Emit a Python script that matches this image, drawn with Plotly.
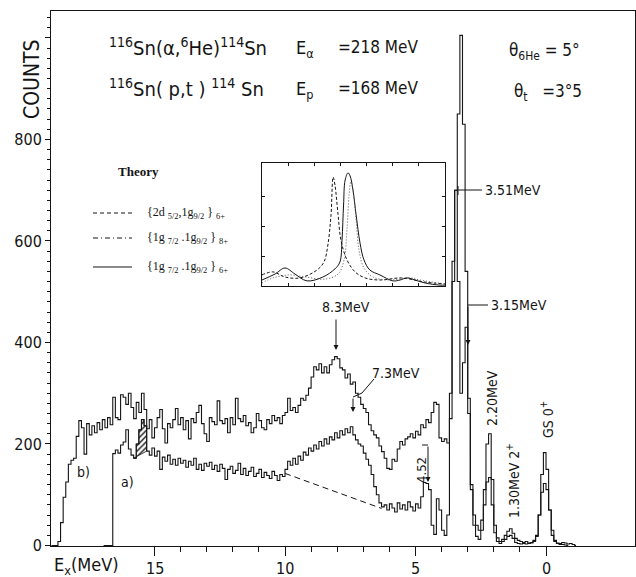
import plotly.graph_objects as go
import numpy as np

# ---------------- data ----------------
BIN = 0.1  # MeV per channel group

# spectrum b) (upper), bin centres start at 18.95 MeV and decrease by BIN
b_first_E = 18.95
b_counts = [
    0, 0, 0, 8, 45, 95, 125, 160, 168, 172,
    215, 246, 232, 180, 240, 218, 236, 222, 242, 228,
    248, 232, 252, 238, 292, 252, 248, 297, 292, 278,
    300, 272, 250, 282, 262, 300, 268, 230, 248, 212,
    232, 252, 268, 230, 202, 240, 232, 248, 270, 238,
    252, 228, 246, 210, 250, 242, 262, 276, 240, 220,
    205, 252, 244, 238, 285, 246, 240, 250, 222, 252,
    238, 290, 250, 244, 256, 236, 242, 222, 232, 260,
    246, 232, 228, 248, 240, 256, 246, 252, 240, 256,
    262, 290, 266, 272, 262, 276, 290, 286, 296, 310,
    332, 352, 346, 358, 340, 352, 340, 356, 366, 372,
    368, 350, 346, 330, 338, 318, 322, 300, 292, 278,
    270, 262, 238, 226, 218, 212, 196, 185, 172, 152,
    150, 170, 166, 190, 205, 198, 210, 214, 220, 212,
    225, 218, 238, 232, 248, 242, 262, 282, 278, 212,
    205, 210, 202, 300, 520, 700, 850, 1005, 830, 540,
    260, 110, 60, 40, 30, 50, 110, 200, 220, 130,
    40, 15, 8, 12, 20, 28, 33, 24, 14, 10,
    8, 6, 8, 5, 6, 10, 18, 60, 140, 183,
    150, 70, 20, 8, 5, 4, 6, 5, 3, 4,
    2, 0,
]

# spectrum a) (lower), bin centres start at 16.95 MeV
a_first_E = 16.95
a_counts = [
    0, 0, 0, 0, 181, 188, 182, 198, 204, 228,
    190, 178, 172, 200, 228, 248, 236, 186, 178, 192,
    176, 186, 150, 174, 166, 178, 160, 170, 158, 172,
    162, 168, 154, 166, 158, 172, 150, 160, 148, 162,
    156, 164, 150, 158, 146, 160, 152, 130, 150, 156,
    142, 148, 162, 140, 152, 138, 146, 154, 136, 142,
    150, 134, 144, 138, 132, 146, 138, 128, 140, 136,
    150, 166, 158, 172, 160, 176, 168, 184, 178, 192,
    186, 198, 190, 205, 196, 210, 200, 214, 208, 222,
    212, 226, 218, 230, 222, 234, 218, 208, 200, 196,
    182, 170, 158, 140, 116, 100, 84, 76, 80, 70,
    82, 74, 66, 84, 72, 80, 70, 86, 76, 68,
    82, 74, 96, 124, 122, 110, 40, 22, 92, 70,
    30, 20, 60, 250, 560, 700, 520, 300, 360, 430,
    290, 120, 40, 18, 12, 30, 80, 125, 134, 80,
    25, 8, 4, 8, 12, 18, 20, 14, 6, 4,
    3, 4, 3, 4, 5, 8, 20, 60, 105, 122,
    110, 70, 30, 10, 4, 2, 2, 1, 0,
]

# dashed background under spectrum a)
bg_E = [10.0, 6.3]
bg_counts = [142, 73]

# hatched region (energy limits)
hatch_E = [15.8, 15.3]

# inset: theoretical curves (arbitrary units)
th_solid_x = [0, 0.5, 0.88, 1.26, 1.72, 2.33, 2.79, 2.98, 3.06, 3.12, 3.18, 3.29, 3.37, 3.48,
              3.6, 3.75, 3.9, 4.13, 4.51, 5.01, 5.28, 5.55, 5.85, 6.24, 6.81, 7.0]
th_solid_y = [0.2, 0.4, 0.6, 0.4, 0.17, 0.3, 0.57, 0.8, 1.53, 2.7, 3.53, 3.77, 3.67, 3.2,
              2.37, 1.43, 0.87, 0.53, 0.37, 0.17, 0.2, 0.27, 0.2, 0.1, 0.03, 0.03]
th_dash_x = [0, 0.42, 0.88, 1.45, 2.1, 2.37, 2.52, 2.64, 2.72, 2.79, 2.91, 3.02, 3.25, 3.56,
             3.94, 4.51, 5.28, 5.66, 6.24, 7.0]
th_dash_y = [0.37, 0.47, 0.3, 0.27, 0.53, 0.8, 1.37, 2.37, 3.63, 3.37, 2.37, 1.53, 0.87, 0.47,
             0.27, 0.2, 0.27, 0.23, 0.13, 0.07]
th_dd_x = [0, 0.42, 1.07, 1.65, 2.41, 2.91, 3.14, 3.25, 3.33, 3.4, 3.48, 3.6, 3.71, 3.9,
           4.25, 4.9, 5.66, 6.04, 7.0]
th_dd_y = [0.1, 0.27, 0.37, 0.3, 0.23, 0.4, 0.87, 1.87, 3.03, 3.47, 3.2, 2.2, 1.2, 0.6,
           0.3, 0.2, 0.27, 0.2, 0.07]

x_major = [15, 10, 5, 0]
x_minor = [14, 13, 12, 11, 9, 8, 7, 6, 4, 3, 2, 1]
y_major = [0, 200, 400, 600, 800, 1000]
y_labels = ["0", "200", "400", "600", "800", ""]

# ---------------- layout geometry ----------------
W, H = 636, 577
L, R, T, B = 51, 1, 11, 31
PW, PH = W - L - R, H - T - B
X_RANGE = [18.966, -3.41]
Y_RANGE = [-1, 1053]


def px(x):
    return (x - L) / PW


def py(y):
    return (H - B - y) / PH


INK = "#141414"
SANS = "DejaVu Sans Condensed, Liberation Sans Narrow, DejaVu Sans, sans-serif"
SERIF = "Liberation Serif, DejaVu Serif, serif"

E_b = b_first_E - BIN * np.arange(len(b_counts))
E_a = a_first_E - BIN * np.arange(len(a_counts))

fig = go.Figure()

# hatched area between spectrum a) and a straight line
sel = [i for i, e in enumerate(E_a) if hatch_E[1] < e < hatch_E[0]]
hx, hy = [], []
for i in sel:
    hx += [E_a[i] + BIN / 2, E_a[i] - BIN / 2]
    hy += [a_counts[i], a_counts[i]]
hx += [hatch_E[1], hatch_E[0]]
hy += [a_counts[sel[-1] + 1], a_counts[sel[0]]]
fig.add_trace(go.Scatter(x=hx, y=hy, fill="toself", mode="lines",
                         line=dict(color=INK, width=0.8),
                         fillcolor="white",
                         fillpattern=dict(shape="/", fgcolor=INK, bgcolor="white",
                                          size=4, solidity=0.35),
                         hoverinfo="skip", showlegend=False))

fig.add_trace(go.Scatter(x=E_b, y=b_counts, mode="lines", line_shape="hvh",
                         line=dict(color=INK, width=1.1), showlegend=False))
fig.add_trace(go.Scatter(x=E_a, y=a_counts, mode="lines", line_shape="hvh",
                         line=dict(color=INK, width=1.1), showlegend=False))
fig.add_trace(go.Scatter(x=bg_E, y=bg_counts, mode="lines",
                         line=dict(color=INK, width=1, dash="6px,4px"), showlegend=False))

# inset curves
fig.add_trace(go.Scatter(x=th_solid_x, y=th_solid_y, mode="lines", line_shape="spline",
                         line=dict(color=INK, width=1), xaxis="x2", yaxis="y2", showlegend=False))
fig.add_trace(go.Scatter(x=th_dash_x, y=th_dash_y, mode="lines", line_shape="spline",
                         line=dict(color=INK, width=1, dash="3px,2px"), xaxis="x2", yaxis="y2",
                         showlegend=False))
fig.add_trace(go.Scatter(x=th_dd_x, y=th_dd_y, mode="lines", line_shape="spline",
                         line=dict(color="#555", width=1, dash="1px,2px"), xaxis="x2", yaxis="y2",
                         showlegend=False))

fig.update_layout(
    template="none",
    width=W, height=H,
    margin=dict(l=L, r=R, t=T, b=B, autoexpand=False),
    paper_bgcolor="white", plot_bgcolor="white",
    font=dict(family=SANS, color=INK),
    xaxis=dict(range=X_RANGE, showgrid=False, zeroline=False, automargin=False,
               showline=True, linecolor=INK, linewidth=1, mirror=True,
               ticks="outside", ticklen=9, tickwidth=1, tickcolor=INK,
               tickvals=x_major, showticklabels=False,
               minor=dict(tickvals=x_minor, ticks="outside", ticklen=5, tickcolor=INK,
                          showgrid=False)),
    yaxis=dict(range=Y_RANGE, showgrid=False, zeroline=False, automargin=False,
               showline=True, linecolor=INK, linewidth=1, mirror=True,
               ticks="outside", ticklen=5, tickwidth=1, tickcolor=INK,
               tickvals=y_major, ticktext=y_labels,
               tickfont=dict(size=16, family=SANS, color=INK),
               minor=dict(dtick=20, tick0=0, ticks="outside", ticklen=3, tickcolor=INK,
                          showgrid=False)),
    xaxis2=dict(domain=[px(262), px(445)], anchor="y2", range=[0, 7], automargin=False,
                showgrid=False, zeroline=False, showline=True, linecolor=INK, linewidth=1,
                mirror="ticks", ticks="inside", ticklen=3, tickcolor=INK,
                tickvals=[1, 2, 3, 4, 5, 6], showticklabels=False),
    yaxis2=dict(domain=[py(286), py(163)], anchor="x2", range=[0, 4.1], automargin=False,
                showgrid=False, zeroline=False, showline=True, linecolor=INK, linewidth=1,
                mirror="ticks", ticks="inside", ticklen=3, tickcolor=INK,
                tickvals=[1, 2, 3], showticklabels=False),
)

ann = []


def text(x, y, s, size=15, anchor="left", angle=0, family=SANS, yanchor="middle"):
    ann.append(dict(x=px(x), y=py(y), xref="paper", yref="paper", text=s, showarrow=False,
                    xanchor=anchor, yanchor=yanchor, textangle=angle,
                    font=dict(size=size, family=family, color=INK)))


def arrow(x0, y0, x1, y1):
    ann.append(dict(x=px(x1), y=py(y1), xref="paper", yref="paper",
                    ax=x0 - x1, ay=y0 - y1, text="", showarrow=True,
                    arrowhead=2, arrowsize=1, arrowwidth=1, arrowcolor=INK))


shapes = []


def seg(pts, dash=None):
    path = "M " + " L ".join(f"{px(a)},{py(b)}" for a, b in pts)
    shapes.append(dict(type="path", path=path, xref="paper", yref="paper",
                       line=dict(color=INK, width=1, dash=dash)))


# x tick labels (placed under the axis ticks)
for v in x_major:
    ann.append(dict(x=v, y=py(568), xref="x", yref="paper", text=str(v), showarrow=False,
                    xanchor="center", yanchor="middle",
                    font=dict(size=16, family=SANS, color=INK)))

# axis titles
text(32, 79, "COUNTS", size=21, anchor="center", angle=-90)
text(52, 566, "E<sub>x</sub>(MeV)", size=18)

# reaction info
text(107, 47, "<sup>116</sup>Sn(α,<sup>6</sup>He)<sup>114</sup>Sn", size=20)
text(294, 49, "E<sub>α</sub>", size=18)
text(336, 47, "=218 MeV", size=17)
text(107, 88, "<sup>116</sup>Sn( p,t ) <sup>114</sup> Sn", size=20)
text(294, 90, "E<sub>p</sub>", size=18)
text(336, 88, "=168 MeV", size=17)
text(507, 51, "θ<sub>6He</sub> = 5°", size=17)
text(512, 92, "θ<sub>t</sub>   =3°5", size=17)

# peak labels
text(346, 307, "8.3MeV", size=14, anchor="center")
arrow(336, 318, 336, 350)
text(370, 373, "7.3MeV", size=14)
seg([(374, 379), (362, 393), (353, 397)])
arrow(353, 397, 353, 412)
text(421, 470, "4.52", size=13, anchor="center", angle=-90)
seg([(422, 445), (428, 445)])
arrow(428, 445, 428, 482)
text(483, 190, "3.51MeV", size=14)
seg([(482, 190), (458, 190)])
seg([(458, 186), (458, 195)])
text(489, 305, "3.15MeV", size=14)
seg([(488, 305), (468, 305)])
arrow(468, 305, 468, 345)
text(492, 398, "2.20MeV", size=14, anchor="center", angle=-90)
text(513, 481, "1.30MeV 2<sup>+</sup>", size=14, anchor="center", angle=-90)
text(547, 420, "GS 0<sup>+</sup>", size=14, anchor="center", angle=-90)
text(83, 472, "b)", size=14, anchor="center")
text(127, 482, "a)", size=14, anchor="center")

# theory legend
text(116, 171, "<b>Theory</b>", size=13, family=SERIF)
seg([(93, 213), (132, 213)], dash="4px,3px")
text(145, 213, "{2d <sub>5/2</sub>,1g<sub>9/2</sub> } <sub>6+</sub>", size=12, family=SERIF)
seg([(93, 238), (132, 238)], dash="5px,3px,1px,3px")
text(145, 238, "{1g <sub>7/2</sub> .1g<sub>9/2</sub> } <sub>8+</sub>", size=12, family=SERIF)
seg([(93, 267), (132, 267)])
text(145, 267, "{1g <sub>7/2</sub> .1g<sub>9/2</sub> } <sub>6+</sub>", size=12, family=SERIF)

fig.update_layout(annotations=ann, shapes=shapes)
fig.write_html("out.html", config={"displayModeBar": False},
               post_script="document.body.style.margin='0';document.body.style.overflow='hidden';")
